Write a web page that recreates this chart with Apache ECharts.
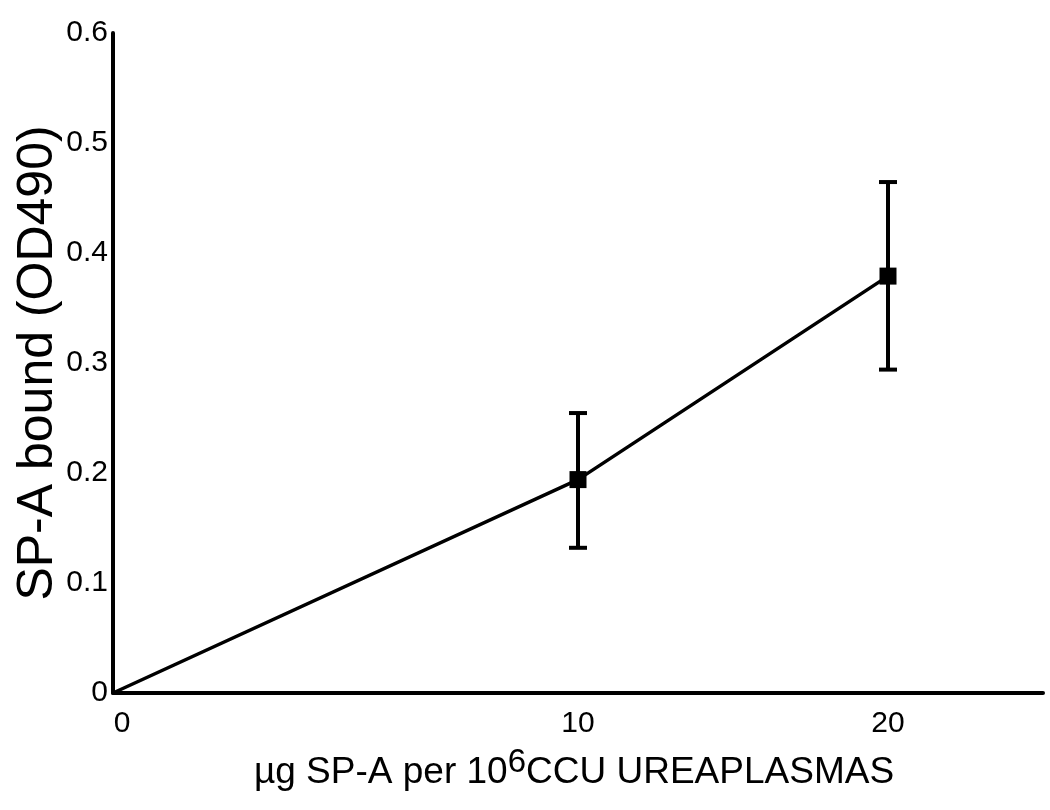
<!DOCTYPE html>
<html>
<head>
<meta charset="utf-8">
<script src="https://cdn.jsdelivr.net/npm/echarts@6/dist/echarts.min.js"></script>
<style>html,body{margin:0;padding:0;background:#fff}#c{width:1050px;height:810px}</style>
</head>
<body>
<div id="c"></div>
<script>
// x slots: the original axis is not linear (0 -> 10 is 3 units, 10 -> 20 is 2 units)
var categories = ['0', '', '', '10', '', '20', ''];
var meanValues = [0, null, null, 0.194, null, 0.379, null];
var errLow     = [null, null, null, 0.132, null, 0.294, null];
var errHigh    = [null, null, null, 0.2545, null, 0.4645, null];
var yTicks = [0, 0.1, 0.2, 0.3, 0.4, 0.5, 0.6];

var FONT = '"Liberation Sans", Arial, sans-serif';

var lineData = meanValues.map(function (v, i) {
  if (v === null) return null;
  return errLow[i] === null ? { value: v, symbol: 'none' } : v;
});
var errData = [];
categories.forEach(function (c, i) {
  if (errLow[i] !== null) errData.push([i, errLow[i], errHigh[i]]);
});

var chart = echarts.init(document.getElementById('c'), null, { renderer: 'canvas' });
chart.setOption({
  animation: false,
  backgroundColor: '#fff',
  grid: { left: 113, right: 7, top: 33, bottom: 117, containLabel: false, outerBoundsMode: 'none' },
  xAxis: {
    type: 'category',
    data: categories,
    boundaryGap: false,
    axisLine: { show: true, lineStyle: { color: '#000', width: 4 } },
    axisTick: { show: false },
    splitLine: { show: false },
    axisLabel: {
      interval: 0, color: '#000', fontFamily: FONT, fontSize: 30, margin: 16,
      formatter: function (v) { return v === '0' ? '{z|0}' : v; },
      rich: { z: { fontFamily: FONT, fontSize: 30, color: '#000', padding: [0, 0, 0, 18] } }
    },
    name: '{a|µg SP-A per 10}{s|6}{a|CCU UREAPLASMAS}',
    nameLocation: 'middle',
    nameGap: 53,
    nameMoveOverlap: false,
    nameTextStyle: {
      padding: [0, 8, 0, 0],
      rich: {
        a: { fontFamily: FONT, fontSize: 37, color: '#000', verticalAlign: 'bottom' },
        s: { fontFamily: FONT, fontSize: 33, color: '#000', verticalAlign: 'bottom', padding: [0, 0, 12, 0] }
      }
    }
  },
  yAxis: {
    type: 'value',
    min: 0, max: 0.6, interval: 0.1,
    axisLine: { show: true, lineStyle: { color: '#000', width: 4 } },
    axisTick: { show: false },
    splitLine: { show: false },
    axisLabel: {
      color: '#000', fontFamily: FONT, fontSize: 30, margin: 5,
      formatter: function (v) {
        var t = yTicks.filter(function (k) { return Math.abs(k - v) < 1e-9; })[0];
        return t === 0 ? '0' : (t !== undefined ? t.toFixed(1) : '');
      }
    },
    name: 'SP-A bound (OD490)',
    nameLocation: 'middle',
    nameGap: 50,
    nameMoveOverlap: false,
    nameTextStyle: { fontFamily: FONT, fontSize: 50, color: '#000' }
  },
  series: [
    {
      type: 'line',
      data: lineData,
      connectNulls: true,
      symbol: 'rect',
      symbolSize: 17,
      showAllSymbol: true,
      lineStyle: { color: '#000', width: 3.5 },
      itemStyle: { color: '#000' },
      z: 3
    },
    {
      type: 'custom',
      data: errData,
      z: 4,
      renderItem: function (params, api) {
        var x = api.value(0);
        var lo = api.coord([x, api.value(1)]);
        var hi = api.coord([x, api.value(2)]);
        var hw = 9;
        var st = { stroke: '#000', lineWidth: 4 };
        return {
          type: 'group',
          children: [
            { type: 'line', shape: { x1: lo[0], y1: lo[1], x2: hi[0], y2: hi[1] }, style: st },
            { type: 'line', shape: { x1: lo[0] - hw, y1: lo[1], x2: lo[0] + hw, y2: lo[1] }, style: st },
            { type: 'line', shape: { x1: hi[0] - hw, y1: hi[1], x2: hi[0] + hw, y2: hi[1] }, style: st }
          ]
        };
      }
    }
  ]
});
</script>
</body>
</html>
